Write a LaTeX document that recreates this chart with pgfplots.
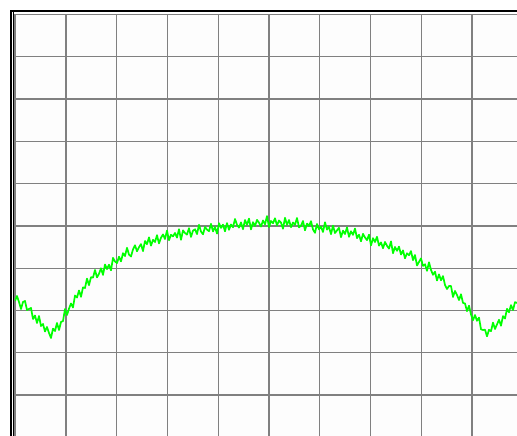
\documentclass[border=0pt]{standalone}
\usepackage{pgfplots}
\pgfplotsset{compat=1.18}
\usepackage{pgfplotstable}
\definecolor{gridgray}{RGB}{128,128,128}
\definecolor{sig}{RGB}{0,255,0}
\definecolor{bg}{RGB}{253,253,253}
\pgfplotstableread{
x y
15 301
17 296
19 302
21 309
23 302
25 301
27 310
29 309
31 308
33 319
35 315.5
37 323
39 316
41 326
43 324
45 331.5
47 327
49 333
51 338
53 328.6
55 331
57 323
59 330
61 322
63 321
65 309
67 315
69 308.6
71 303.5
73 307.5
75 295.5
77 297.5
79 290.5
81 296.8
83 287.4
85 288
87 278.6
89 285.2
91 277.2
93 277.6
95 270
97 277.4
99 273.8
101 268.3
103 274.9
105 264.5
107 269.1
109 264.7
111 270.3
113 257.9
115 261.5
117 263.1
119 256.7
121 261.4
123 253.2
125 256
127 247.8
129 254.6
131 256.5
133 249.4
135 245.3
137 251.3
139 247.2
141 244.1
143 251.1
145 241
147 244.2
149 237.4
151 245.6
153 239.8
155 242
157 235.2
159 243.4
161 237.8
163 234.4
165 239
167 230.6
169 240.2
171 234.8
173 236.4
175 233
177 237.6
179 229.2
181 239.8
183 230.4
185 233
187 234.6
189 228.2
191 236.9
193 230.6
195 229.3
197 234.1
199 224.8
201 231.5
203 234.3
205 227
207 229.6
209 231.2
211 223.8
213 231.4
215 227
217 233.6
219 223.2
221 227.9
223 224.6
225 231.3
227 223.1
229 229.8
231 224.5
233 227.3
235 219
237 224.8
239 227.6
241 222.4
243 229.2
245 220
247 224.8
249 218.6
251 229.4
253 222.2
255 226
257 219.9
259 222.7
261 226.6
263 220.5
265 224.3
267 216.1
269 227.1
271 221
273 223.2
275 218.3
277 225.4
279 220.5
281 222.6
283 228.7
285 217.8
287 224.9
289 220
291 227.2
293 222.5
295 224.8
297 218
299 227.4
301 225.7
303 221
305 230.3
307 223.6
309 225.9
311 221.2
313 229.5
315 232.8
317 224
319 229.4
321 226.7
323 232
325 222.3
327 229.6
329 226.9
331 234.2
333 225.6
335 233
337 230.4
339 227.8
341 237.2
343 230.6
345 234
347 227.4
349 236.8
351 231.3
353 234.9
355 228.5
357 238.1
359 234.7
361 241.3
363 233.9
365 237.5
367 240.1
369 234.7
371 245.4
373 238.2
375 242
377 236.8
379 245.6
381 242.4
383 248.2
385 242
387 245.8
389 248.6
391 241.4
393 253.2
395 247
397 250.8
399 246.6
401 254.5
403 250.4
405 258.3
407 253.3
409 255.2
411 251.1
413 260.1
415 255
417 265.5
419 261.9
421 258.4
423 265.9
425 264.3
427 270.8
429 262.3
431 269.9
433 274.8
435 271.7
437 280.5
439 274.4
441 280.3
443 276.1
445 285
447 289
449 286
451 286
453 297
455 291
457 295
459 300
461 294.3
463 302.9
465 303.5
467 311.1
469 305.7
471 314.4
473 320.2
475 315
477 320.8
479 317.6
481 329.3
483 330
485 329.7
487 336.3
489 329.8
491 331.2
493 322.6
495 329
497 324.4
499 319.8
501 325.7
503 316.1
505 318.5
507 308.9
509 312.3
511 305.1
513 310.1
515 302.1
517 303
}\sigdata
\begin{document}
\begin{tikzpicture}[x=1pt,y=1pt]
\useasboundingbox (0,0) rectangle (517,436);
\clip (0,0) rectangle (517,436);
\fill[white] (0,0) rectangle (517,436);
\begin{axis}[
  at={(15pt,-1.5pt)}, anchor=south west,
  scale only axis, width=507pt, height=423pt,
  xmin=15, xmax=522, ymin=14.5, ymax=437.5, y dir=reverse,
  xtick={15.25,66,116.75,167.5,218.25,269,319.75,370.5,421.25,472,522.75},
  ytick={14.4,56.7,99,141.3,183.6,225.9,268.1,310.4,352.7,395,437.3},
  xticklabels={}, yticklabels={},
  major tick length=0pt,
  grid=major,
  major grid style={draw=gridgray, line width=1.2pt},
  axis line style={draw=gridgray, line width=1.6pt},
  axis background/.style={fill=bg},
]
\addplot[color=sig, line width=1.7pt, line join=round, no markers] table[x=x,y=y] {\sigdata};
\end{axis}
\fill[black] (10,0) rectangle (12,426);
\fill[black] (10,424) rectangle (517,426);
\fill[black] (13.3,0) rectangle (14.3,424);
\end{tikzpicture}
\end{document}
